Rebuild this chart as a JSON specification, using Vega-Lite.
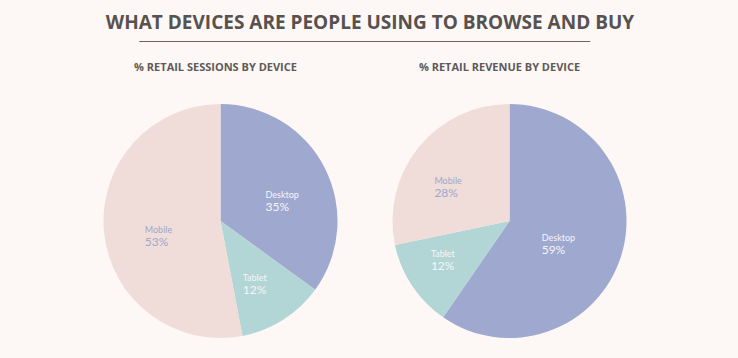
{
  "$schema": "https://vega.github.io/schema/vega-lite/v6.json",
  "background": "#fdf8f5",
  "padding": {"left": 103.5, "right": 111.5, "top": 14, "bottom": 20},
  "autosize": {"type": "pad"},
  "title": {"text": "WHAT DEVICES ARE PEOPLE USING TO BROWSE AND BUY", "fontSize": 19, "font": "Open Sans", "fontWeight": "bold", "color": "#57514f", "anchor": "middle", "offset": 8, "dx": 5},
  "datasets": {
    "sessions": [
      {"device": "Desktop", "pct": 0.35, "ord": 1},
      {"device": "Tablet", "pct": 0.12, "ord": 2},
      {"device": "Mobile", "pct": 0.53, "ord": 3}
    ],
    "revenue": [
      {"device": "Desktop", "pct": 0.59, "ord": 1},
      {"device": "Tablet", "pct": 0.12, "ord": 2},
      {"device": "Mobile", "pct": 0.28, "ord": 3}
    ]
  },
  "center": true,
  "spacing": 20,
  "vconcat": [
    {
      "width": 451,
      "height": 1,
      "data": {"values": [{"a": 0, "b": 1}]},
      "mark": {"type": "rule", "color": "#6b6462", "strokeWidth": 1},
      "encoding": {
        "x": {"field": "a", "type": "quantitative", "axis": null, "scale": {"domain": [0, 1]}},
        "x2": {"field": "b"}
      }
    },
    {
      "spacing": 55,
      "hconcat": [
        {
          "width": 234,
          "height": 234,
          "data": {"name": "sessions"},
          "title": {"text": "% RETAIL SESSIONS BY DEVICE", "fontSize": 11, "font": "Open Sans", "fontWeight": "bold", "color": "#5e5a59", "offset": 31, "dx": -5, "anchor": "middle", "letterSpacing": 0.3},
          "encoding": {
            "theta": {"field": "pct", "type": "quantitative", "stack": true},
            "order": {"field": "ord", "type": "quantitative"}
          },
          "layer": [
            {
              "mark": {"type": "arc", "outerRadius": 117},
              "encoding": {
                "color": {"field": "device", "type": "nominal", "legend": null,
                  "scale": {"domain": ["Desktop", "Tablet", "Mobile"], "range": ["#9fa9d0", "#b2d6d6", "#f0ddd9"]}}
              }
            },
            {
              "mark": {"type": "text", "radius": 64, "align": "left", "dx": -12, "dy": 3, "fontSize": 9, "font": "Lato", "letterSpacing": 0.6},
              "encoding": {
                "text": {"field": "device", "type": "nominal"},
                "color": {"condition": {"test": "datum.device === 'Mobile'", "value": "#a0a7ca"}, "value": "#f7f4f8"}
              }
            },
            {
              "mark": {"type": "text", "radius": 64, "align": "left", "dx": -12, "dy": 15, "fontSize": 12, "font": "Lato", "letterSpacing": 0.6},
              "encoding": {
                "text": {"field": "pct", "type": "quantitative", "format": ".0%"},
                "color": {"condition": {"test": "datum.device === 'Mobile'", "value": "#a0a7ca"}, "value": "#f7f4f8"}
              }
            }
          ]
        },
        {
          "width": 234,
          "height": 234,
          "data": {"name": "revenue"},
          "title": {"text": "% RETAIL REVENUE BY DEVICE", "fontSize": 11, "font": "Open Sans", "fontWeight": "bold", "color": "#5e5a59", "offset": 31, "dx": -10, "anchor": "middle", "letterSpacing": 0.3},
          "encoding": {
            "theta": {"field": "pct", "type": "quantitative", "stack": true},
            "order": {"field": "ord", "type": "quantitative"}
          },
          "layer": [
            {
              "mark": {"type": "arc", "outerRadius": 117},
              "encoding": {
                "color": {"field": "device", "type": "nominal", "legend": null,
                  "scale": {"domain": ["Desktop", "Tablet", "Mobile"], "range": ["#9fa9d0", "#b2d6d6", "#f0ddd9"]}}
              }
            },
            {
              "mark": {"type": "text", "radius": 62, "align": "left", "dx": -27, "dy": -1, "fontSize": 9, "font": "Lato", "letterSpacing": 0.6},
              "encoding": {
                "text": {"field": "device", "type": "nominal"},
                "color": {"condition": {"test": "datum.device === 'Mobile'", "value": "#a0a7ca"}, "value": "#f7f4f8"}
              }
            },
            {
              "mark": {"type": "text", "radius": 62, "align": "left", "dx": -27, "dy": 11, "fontSize": 12, "font": "Lato", "letterSpacing": 0.6},
              "encoding": {
                "text": {"field": "pct", "type": "quantitative", "format": ".0%"},
                "color": {"condition": {"test": "datum.device === 'Mobile'", "value": "#a0a7ca"}, "value": "#f7f4f8"}
              }
            }
          ]
        }
      ]
    }
  ],
  "config": {"view": {"stroke": null}}
}
